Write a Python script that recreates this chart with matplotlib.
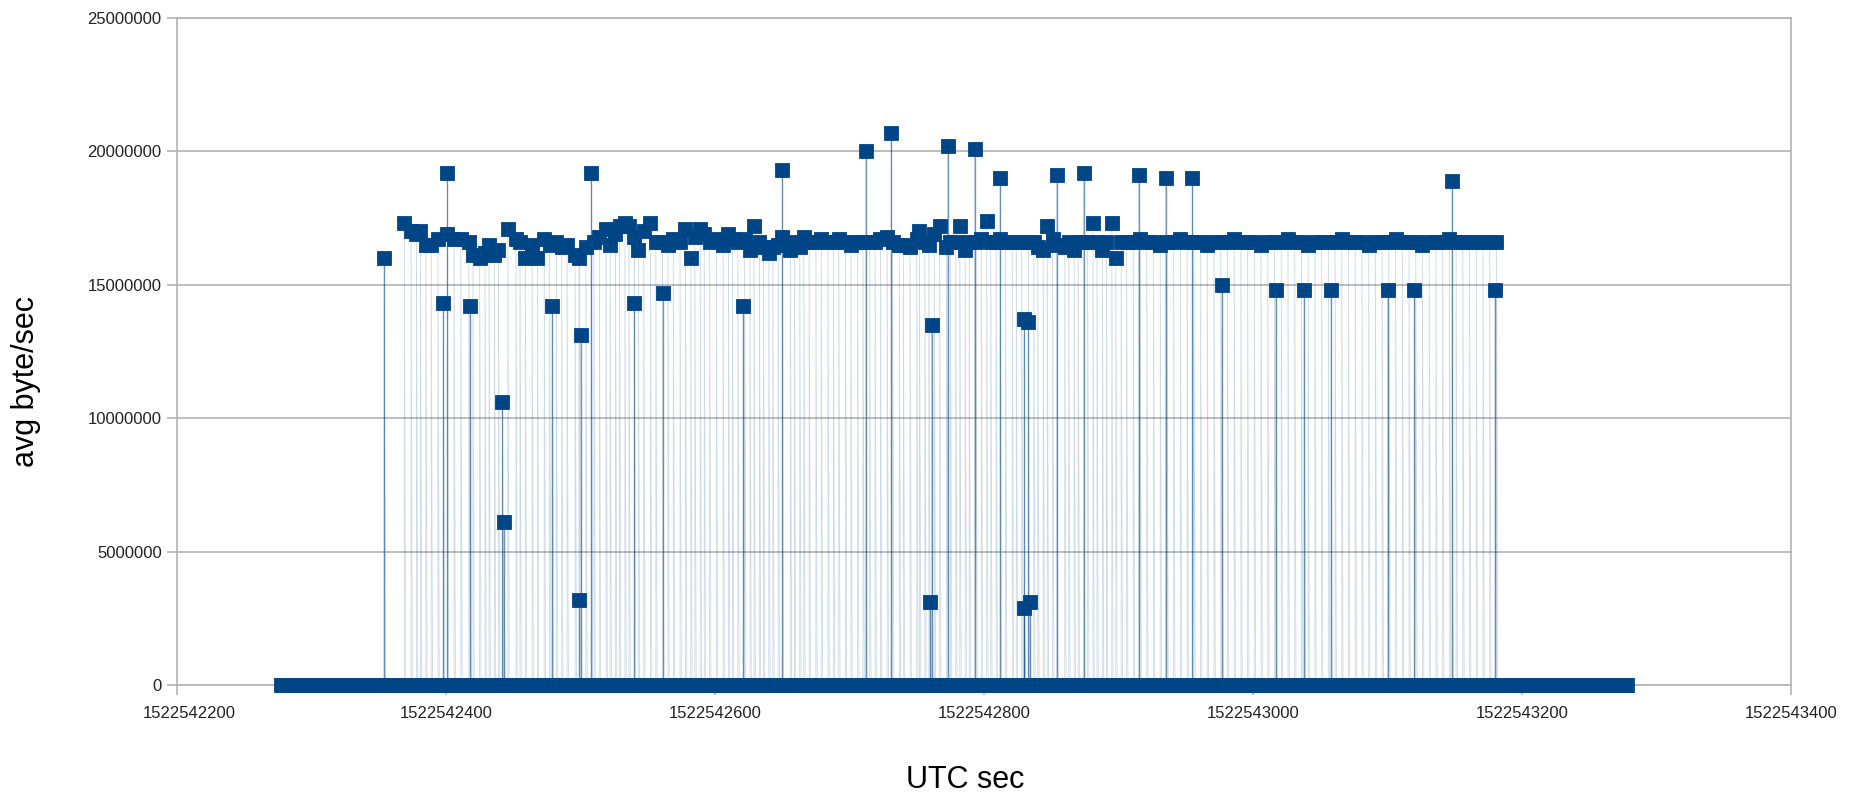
import numpy as np
import matplotlib.pyplot as plt
import matplotlib.transforms as mtransforms

plt.rcParams['font.family'] = ['Liberation Sans', 'DejaVu Sans']

t0 = 1522542200

# busy samples: seconds after t0, avg byte/sec in millions
band_t = [169, 174, 178, 181, 185, 189, 194, 201, 206, 211, 217, 220, 225, 229, 232, 236, 239,
          246, 252, 255, 259, 264, 268, 273, 277, 282, 286, 290, 296, 299, 304, 310, 314, 319,
          322, 326, 329, 333, 336, 340, 343, 347, 352, 356, 361, 365, 369, 374, 378, 382, 385,
          389, 392, 396, 401, 406, 410, 413, 417, 422, 426, 429, 433, 436, 440, 443, 447, 450,
          456, 459, 463, 466, 470, 475, 479, 484, 488, 492, 497, 501, 506, 510, 515, 519, 523,
          528, 532, 537, 540, 545, 550, 552, 556, 559, 563, 567, 572, 575, 579, 582, 586, 589,
          594, 598, 602, 605, 609, 612, 616, 621, 624, 628, 633, 637, 640, 644, 647, 651, 654,
          660, 663, 667, 670, 674, 677, 681, 684, 688, 691, 695, 698, 702,
          706, 711, 716, 721, 726, 731, 736, 741, 746, 751, 756, 761, 766, 771, 776, 781, 786,
          791, 796, 801, 806, 811, 816, 821, 826, 831, 836, 841, 846, 851, 856, 861, 866, 871,
          876, 881, 886, 891, 896, 901, 906, 911, 916, 921, 926, 931, 936, 941, 946, 951, 956,
          961, 966, 971, 976, 981]
band_v = [17.3, 17.0, 16.9, 17.0, 16.5, 16.5, 16.7, 16.9, 16.7, 16.7, 16.6, 16.1, 16.0, 16.2,
          16.5, 16.1, 16.3, 17.1, 16.7, 16.6, 16.0, 16.5, 16.0, 16.7, 16.5, 16.6, 16.4, 16.5,
          16.1, 16.0, 16.4, 16.6, 16.8, 17.1, 16.5, 16.9, 17.2, 17.3, 17.2, 16.8, 16.3, 17.0,
          17.3, 16.6, 16.6, 16.5, 16.7, 16.6, 17.1, 16.0, 16.8, 17.1, 16.9, 16.6, 16.7, 16.5,
          16.9, 16.7, 16.6, 16.7, 16.3, 17.2, 16.6, 16.4, 16.2, 16.4, 16.5, 16.8, 16.3, 16.6,
          16.4, 16.8, 16.6, 16.6, 16.7, 16.6, 16.6, 16.7, 16.6, 16.5, 16.6, 16.6, 16.6, 16.6,
          16.7, 16.8, 16.6, 16.5, 16.5, 16.4, 16.7, 17.0, 16.6, 16.5, 16.9, 17.2, 16.4, 16.6,
          16.6, 17.2, 16.3, 16.6, 16.6, 16.7, 17.4, 16.6, 16.6, 16.7, 16.6, 16.6, 16.6, 16.6,
          16.6, 16.6, 16.4, 16.3, 17.2, 16.7, 16.5, 16.4, 16.6, 16.3, 16.6, 16.6, 16.6, 17.3,
          16.6, 16.3, 16.6, 17.3, 16.0, 16.6,
          16.6, 16.6, 16.7, 16.6, 16.6, 16.5, 16.6, 16.6, 16.7, 16.6, 16.6, 16.6, 16.5, 16.6,
          16.6, 16.6, 16.7, 16.6, 16.6, 16.6, 16.5, 16.6, 16.6, 16.6, 16.7, 16.6, 16.6, 16.5,
          16.6, 16.6, 16.6, 16.6, 16.7, 16.6, 16.6, 16.6, 16.5, 16.6, 16.6, 16.6, 16.7, 16.6,
          16.6, 16.6, 16.5, 16.6, 16.6, 16.6, 16.7, 16.6, 16.6, 16.6, 16.6, 16.6, 16.6, 16.6]

odd_t = [154, 198, 201, 218, 242, 243, 279, 299, 300, 308, 340, 361, 421, 450, 512, 531, 560,
         561, 573, 593, 612, 630, 630, 633, 634, 654, 674, 715, 735, 755, 777, 817, 838, 858,
         900, 920, 948, 980]
odd_v = [16.0, 14.3, 19.2, 14.2, 10.6, 6.1, 14.2, 3.2, 13.1, 19.2, 14.3, 14.7, 14.2, 19.3,
         20.0, 20.7, 3.1, 13.5, 20.2, 20.1, 19.0, 13.7, 2.9, 13.6, 3.1, 19.1, 19.2, 19.1, 19.0,
         19.0, 15.0, 14.8, 14.8, 14.8, 14.8, 14.8, 18.9, 14.8]

# idle samples (0 byte/sec), one per second
idle_start, idle_end = 77, 1078

idle_t = np.arange(idle_start, idle_end + 1)
t = np.concatenate([idle_t, band_t, odd_t]).astype(float)
v = np.concatenate([np.zeros(len(idle_t)), band_v, odd_v]) * 1e6
order = np.argsort(t, kind='stable')
t = t[order] + t0
v = v[order]

blue = '#004586'
grid = '#b3b3b3'

fig = plt.figure(figsize=(18.54, 7.98), dpi=100)
ax = fig.add_axes([177 / 1854, 1 - 685 / 798, (1791 - 177) / 1854, (685 - 18) / 798])

ax.plot(t, v, color=blue, lw=0.6, alpha=0.2, zorder=2)
# the outlier samples show up as darker drops in the original
ax.vlines(np.array(odd_t) + t0, 0, np.array(odd_v) * 1e6, color=blue, lw=1.0, alpha=0.55, zorder=2)
ax.plot(t, v, ls='none', marker='s', ms=9.5, mfc=blue, mec=blue, mew=0.6, zorder=3, clip_on=False)

ax.set_xlim(1522542200, 1522543400)
ax.set_ylim(0, 25000000)
ax.set_xticks(np.arange(1522542200, 1522543401, 200))
ax.set_yticks(np.arange(0, 25000001, 5000000))
ax.xaxis.set_major_formatter(plt.FuncFormatter(lambda x, p: f"{int(x)}"))
ax.yaxis.set_major_formatter(plt.FuncFormatter(lambda y, p: f"{int(y)}"))

ax.grid(axis='y', color=grid, lw=1.2, zorder=0)
for s in ax.spines.values():
    s.set_color(grid)
    s.set_linewidth(1.2)
ax.tick_params(axis='both', colors=grid, length=7, width=1.2, labelsize=12, labelcolor='#222222')
ax.tick_params(axis='x', pad=8)
ax.tick_params(axis='y', pad=4)

# first x label is pushed right a little, as in the source chart
lbl = ax.get_xticklabels()[0]
lbl.set_transform(lbl.get_transform() + mtransforms.ScaledTranslation(12 / 100, 0, fig.dpi_scale_trans))

fig.text(965 / 1854, 1 - 780 / 798, "UTC sec", fontsize=22, ha='center', va='center')
fig.text(26 / 1854, 1 - 381 / 798, "avg byte/sec", fontsize=22, ha='center', va='center', rotation=90)

plt.savefig("out.png", dpi=100)
